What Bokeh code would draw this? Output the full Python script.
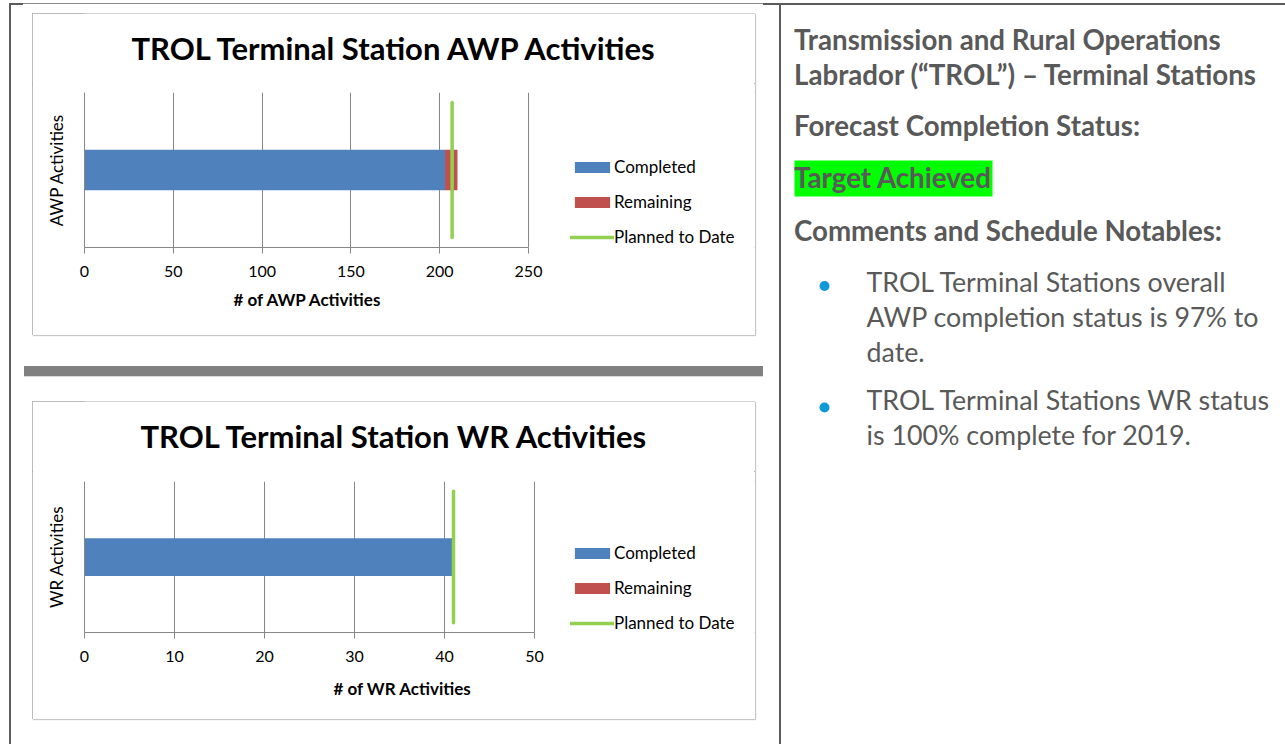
from bokeh.plotting import figure
from bokeh.models import Range1d, Legend, LegendItem, Spacer, FixedTicker, ColumnDataSource, Title
from bokeh.layouts import row, column
from bokeh.embed import file_html
from bokeh.resources import INLINE
from bokeh.core.properties import value

# ---------------- data ----------------
awp_category = ["AWP Activities"]
awp_completed = [203]
awp_remaining = [7]
awp_planned = [207]
awp_ticks = [0, 50, 100, 150, 200, 250]

wr_category = ["WR Activities"]
wr_completed = [41]
wr_remaining = [0]
wr_planned = [41]
wr_ticks = [0, 10, 20, 30, 40, 50]

series_names = ["Completed", "Remaining", "Planned to Date"]
chart_titles = ["TROL Terminal Station AWP Activities", "TROL Terminal Station WR Activities"]
x_titles = ["# of AWP Activities", "# of WR Activities"]

header_lines = [
    "Transmission and Rural Operations",
    "Labrador (\u201cTROL\u201d) \u2013 Terminal Stations",
    "Forecast Completion Status:",
    "Target Achieved",
    "Comments and Schedule Notables:",
]
bullet_lines = [
    "TROL Terminal Stations overall",
    "AWP completion status is 97% to",
    "date.",
    "TROL Terminal Stations WR status",
    "is 100% complete for 2019.",
]

# ---------------- styles ----------------
BLUE = "#4F81BD"
RED = "#C0504D"
GREEN = "#92D050"
GRID = "#878787"
FONT = "Lato"
TEXT_GREY = "#595959"
BOX_W = 723
TITLE_H = 70
LEFT_B = 52


def make_chart(title, ylab, xlab, category, completed, remaining, planned, ticks,
               box_h, top_b, bottom_b, axis_px, bar_h, title_x, xlab_offset,
               xlab_standoff, legend_dy):
    # --- title strip (top of the chart box); frame aligned with the chart below ---
    tf = figure(width=BOX_W, height=TITLE_H, x_range=Range1d(LEFT_B, BOX_W),
                y_range=Range1d(TITLE_H, 0), output_backend="svg", toolbar_location=None,
                title=None, x_axis_location=None, y_axis_location=None,
                min_border_left=LEFT_B, min_border_right=0, min_border_top=0,
                min_border_bottom=0,
                outline_line_color=None, border_fill_color="white",
                background_fill_color="white")
    tf.grid.visible = False
    tf.text(x=[title_x], y=[34.5], text=[title], text_align="left",
            text_baseline="middle", text_font=value(FONT), text_font_style="bold",
            text_font_size="31px", text_color="black")

    # --- chart proper ---
    src = ColumnDataSource(dict(
        y=[0.5] * len(category),
        start=[0] * len(completed),
        completed=completed,
        total=[c + r for c, r in zip(completed, remaining)],
    ))
    frame_w = BOX_W - LEFT_B
    x_end = ticks[-1] * frame_w / axis_px
    p = figure(width=BOX_W, height=box_h - TITLE_H, x_range=Range1d(ticks[0], x_end),
               y_range=Range1d(0, 1), output_backend="svg", toolbar_location=None,
               title=None, min_border_left=LEFT_B, min_border_right=0,
               min_border_top=top_b, min_border_bottom=bottom_b,
               outline_line_color=None, border_fill_color="white",
               background_fill_color="white")

    r_c = p.hbar(y="y", left="start", right="completed", height=bar_h, source=src,
                 fill_color=BLUE, line_color=None)
    r_r = p.hbar(y="y", left="completed", right="total", height=bar_h, source=src,
                 fill_color=RED, line_color=None)
    r_p = p.line(x=[planned[0], planned[0]], y=[0.065, 0.935], line_color=GREEN,
                 line_width=3.5, line_cap="round")

    p.xaxis.ticker = FixedTicker(ticks=ticks)
    p.xaxis.bounds = (ticks[0], ticks[-1])
    p.xaxis.minor_tick_line_color = None
    p.xaxis.major_tick_in = 0
    p.xaxis.major_tick_out = 6
    p.xaxis.major_tick_line_color = GRID
    p.xaxis.axis_line_color = GRID
    p.xaxis.major_label_text_font = FONT
    p.xaxis.major_label_text_font_size = "16px"
    p.xaxis.major_label_text_color = "black"
    p.xaxis.major_label_standoff = 12

    p.yaxis.ticker = FixedTicker(ticks=[])
    p.yaxis.minor_tick_line_color = None
    p.yaxis.major_tick_line_color = None
    p.yaxis.major_tick_out = 0
    p.yaxis.axis_line_color = GRID
    p.yaxis.major_label_standoff = 0
    p.yaxis.axis_label = ylab
    p.yaxis.axis_label_text_font = FONT
    p.yaxis.axis_label_text_font_style = "normal"
    p.yaxis.axis_label_text_font_size = "17px"
    p.yaxis.axis_label_text_color = "black"
    p.yaxis.axis_label_standoff = 18

    p.xgrid.ticker = FixedTicker(ticks=ticks)
    p.xgrid.grid_line_color = GRID
    p.ygrid.grid_line_color = None

    p.add_layout(Title(text=xlab, align="left", offset=xlab_offset, vertical_align="top",
                       standoff=xlab_standoff, text_font=FONT, text_font_style="bold",
                       text_font_size="17px", text_color="black"), "below")

    legend = Legend(items=[LegendItem(label=series_names[0], renderers=[r_c]),
                           LegendItem(label=series_names[1], renderers=[r_r]),
                           LegendItem(label=series_names[2], renderers=[r_p])],
                    location=(486, legend_dy), glyph_width=44, glyph_height=14,
                    label_standoff=0, label_height=20, spacing=14, padding=0, margin=0,
                    border_line_color=None, background_fill_alpha=0,
                    label_text_font=FONT, label_text_font_size="17px",
                    label_text_color="black")
    p.add_layout(legend)

    box = column(tf, p, styles={"outline": "1px solid #a6a6a6", "outline-offset": "-1px",
                                "box-shadow": "1px 1px 1px #c8c8c8"})
    return box


chart1 = make_chart(chart_titles[0], awp_category[0], x_titles[0], awp_category,
                    awp_completed, awp_remaining, awp_planned, awp_ticks,
                    box_h=322, top_b=9, bottom_b=88, axis_px=444, bar_h=0.26,
                    title_x=99, xlab_offset=149, xlab_standoff=18, legend_dy=0)
chart2 = make_chart(chart_titles[1], wr_category[0], x_titles[1], wr_category,
                    wr_completed, wr_remaining, wr_planned, wr_ticks,
                    box_h=318, top_b=10, bottom_b=87, axis_px=450, bar_h=0.25,
                    title_x=108, xlab_offset=249, xlab_standoff=27, legend_dy=-1)

# ---------------- right-hand text panel ----------------
rp = figure(width=504, height=739, x_range=Range1d(781, 1285), y_range=Range1d(744, 5),
            output_backend="svg", toolbar_location=None, title=None,
            x_axis_location=None, y_axis_location=None, min_border=0,
            outline_line_color=None, border_fill_color="white", background_fill_color="white")
rp.grid.visible = False
rp.quad(left=[794], right=[992], top=[160], bottom=[196], fill_color="#00FF00", line_color=None)
rp.text(x=[793.5] * 5, y=[38.5, 73.5, 125, 177, 229.5], text=header_lines,
        text_font=value(FONT), text_font_style="bold", text_font_size="27.7px",
        text_color=TEXT_GREY, text_baseline="middle", text_align="left")
rp.scatter(x=[824, 824], y=[285.5, 407], size=10, marker="circle",
           fill_color="#0E9AD7", line_color=None)
rp.text(x=[866] * 5, y=[281.3, 316.3, 351.1, 399.6, 434.6], text=bullet_lines,
        text_font=value(FONT), text_font_size="26.8px",
        text_color=TEXT_GREY, text_baseline="middle", text_align="left")

# ---------------- page layout ----------------
DARK = "#5b5b5b"
top_row = row(Spacer(width=9, height=2),
              Spacer(width=14, height=2, styles={"background-color": DARK}),
              Spacer(width=740, height=1, styles={"background-color": "#8a8a8a"}),
              Spacer(width=522, height=2, styles={"background-color": DARK}))
leftborder = Spacer(width=2, height=739, styles={"background-color": DARK})
divider = Spacer(width=2, height=739, styles={"background-color": DARK})
graybar = Spacer(width=739, height=10, styles={"background-color": "#808080",
                                                "box-shadow": "0 1px 0 #d9d9d9"})

left_col = column(
    Spacer(width=768, height=8),
    row(Spacer(width=21, height=322), chart1),
    Spacer(width=768, height=31),
    row(Spacer(width=13, height=10), graybar),
    Spacer(width=768, height=25),
    row(Spacer(width=21, height=318), chart2),
    Spacer(width=768, height=25),
)

page = column(Spacer(width=1285, height=3), top_row,
              row(Spacer(width=9, height=739), leftborder, left_col, divider, rp))

open("out.html", "w").write(file_html(page, INLINE))
